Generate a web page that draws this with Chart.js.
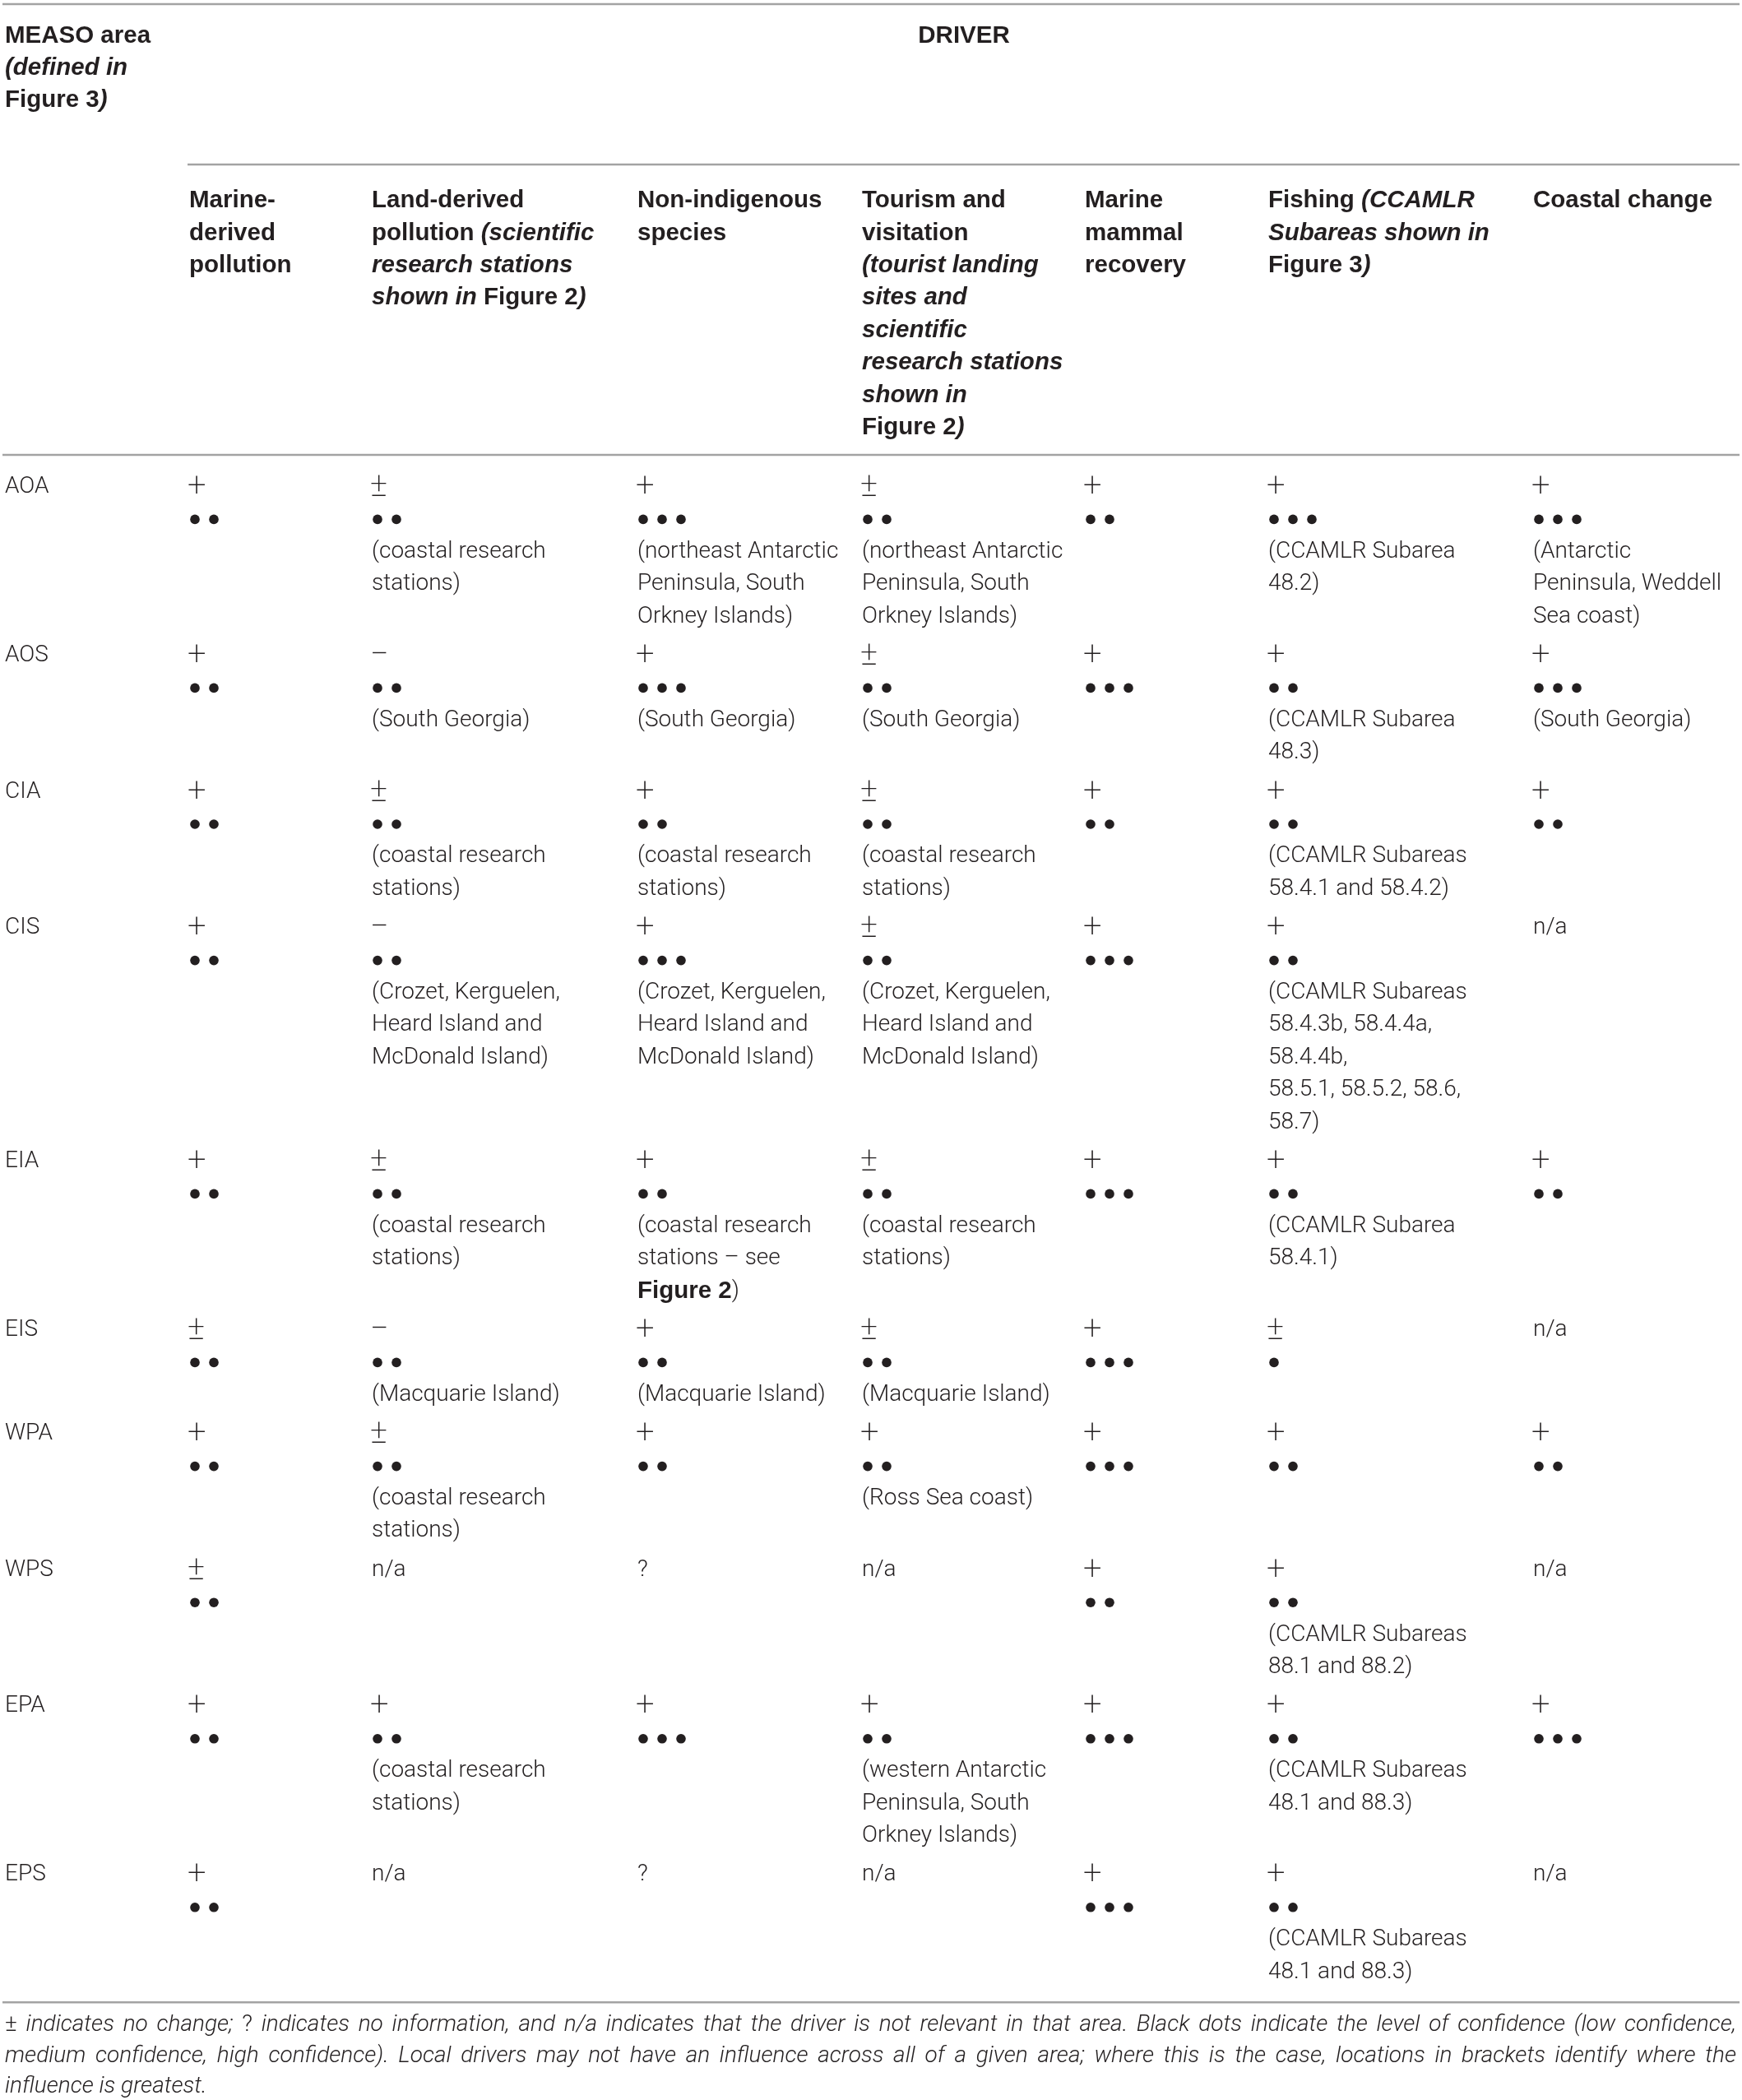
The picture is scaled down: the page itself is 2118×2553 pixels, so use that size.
<!DOCTYPE html>
<html>
<head>
<meta charset="utf-8">
<script src="https://cdn.jsdelivr.net/npm/chart.js@4.4.1/dist/chart.umd.min.js"></script>
<style>
  html, body { margin: 0; padding: 0; background: #fff; }
  canvas { display: block; }
</style>
</head>
<body>
<canvas id="chart" width="2118" height="2553"></canvas>
<script>
// ---- table content ----
const areas = ['AOA', 'AOS', 'CIA', 'CIS', 'EIA', 'EIS', 'WPA', 'WPS', 'EPA', 'EPS'];
const areaHead = ['MEASO area', '_(defined in_', 'Figure 3_)_'];
const groupHead = 'DRIVER';
// '_' toggles italic, '*' toggles bold
const driverHeads = [
  ['Marine-', 'derived', 'pollution'],
  ['Land-derived', 'pollution _(scientific_', '_research stations_', '_shown in_ Figure 2_)_'],
  ['Non-indigenous', 'species'],
  ['Tourism and', 'visitation', '_(tourist landing_', '_sites and_', '_scientific_', '_research stations_', '_shown in_', 'Figure 2_)_'],
  ['Marine', 'mammal', 'recovery'],
  ['Fishing _(CCAMLR_', '_Subareas shown in_', 'Figure 3_)_'],
  ['Coastal change']
];
const signs = [
  ['+', '±', '+', '±', '+', '+', '+'],
  ['+', '−', '+', '±', '+', '+', '+'],
  ['+', '±', '+', '±', '+', '+', '+'],
  ['+', '−', '+', '±', '+', '+', 'n/a'],
  ['+', '±', '+', '±', '+', '+', '+'],
  ['±', '−', '+', '±', '+', '±', 'n/a'],
  ['+', '±', '+', '+', '+', '+', '+'],
  ['±', 'n/a', '?', 'n/a', '+', '+', 'n/a'],
  ['+', '+', '+', '+', '+', '+', '+'],
  ['+', 'n/a', '?', 'n/a', '+', '+', 'n/a']
];
// number of black dots (confidence level)
const confidence = [
  [2, 2, 3, 2, 2, 3, 3],
  [2, 2, 3, 2, 3, 2, 3],
  [2, 2, 2, 2, 2, 2, 2],
  [2, 2, 3, 2, 3, 2, 0],
  [2, 2, 2, 2, 3, 2, 2],
  [2, 2, 2, 2, 3, 1, 0],
  [2, 2, 2, 2, 3, 2, 2],
  [2, 0, 0, 0, 2, 2, 0],
  [2, 2, 3, 2, 3, 2, 3],
  [2, 0, 0, 0, 3, 2, 0]
];
const coastal = ['(coastal research', 'stations)'];
const neAntarctic = ['(northeast Antarctic', 'Peninsula, South', 'Orkney Islands)'];
const crozet = ['(Crozet, Kerguelen,', 'Heard Island and', 'McDonald Island)'];
const notes = [
  [null, coastal, neAntarctic, neAntarctic, null, ['(CCAMLR Subarea', '48.2)'], ['(Antarctic', 'Peninsula, Weddell', 'Sea coast)']],
  [null, ['(South Georgia)'], ['(South Georgia)'], ['(South Georgia)'], null, ['(CCAMLR Subarea', '48.3)'], ['(South Georgia)']],
  [null, coastal, coastal, coastal, null, ['(CCAMLR Subareas', '58.4.1 and 58.4.2)'], null],
  [null, crozet, crozet, crozet, null, ['(CCAMLR Subareas', '58.4.3b, 58.4.4a,', '58.4.4b,', '58.5.1, 58.5.2, 58.6,', '58.7)'], null],
  [null, coastal, ['(coastal research', 'stations – see', '*Figure 2*)'], coastal, null, ['(CCAMLR Subarea', '58.4.1)'], null],
  [null, ['(Macquarie Island)'], ['(Macquarie Island)'], ['(Macquarie Island)'], null, null, null],
  [null, coastal, null, ['(Ross Sea coast)'], null, null, null],
  [null, null, null, null, null, ['(CCAMLR Subareas', '88.1 and 88.2)'], null],
  [null, coastal, null, ['(western Antarctic', 'Peninsula, South', 'Orkney Islands)'], null, ['(CCAMLR Subareas', '48.1 and 88.3)'], null],
  [null, null, null, null, null, ['(CCAMLR Subareas', '48.1 and 88.3)'], null]
];
const footnote = [
  '_±_ indicates no change; _?_ indicates no information, and n/a indicates that the driver is not relevant in that area. Black dots indicate the level of confidence (low confidence,',
  'medium confidence, high confidence). Local drivers may not have an influence across all of a given area; where this is the case, locations in brackets identify where the',
  'influence is greatest.'
];

// ---- layout ----
const W = 2118, H = 2553;
const colX = [6, 230, 452, 775, 1048, 1319, 1542, 1864];
const lineH = 39.4;
const rowGap = 8;
const firstRowY = 592;
const headY = 44, driverHeadY = 244;
const ink = '#231f20';
const ruleColor = '#a3a3a3';
const FS = 28;
const BODY_FAMILY = 'Roboto, "Liberation Sans", sans-serif';
const HEAD_FAMILY = '"Liberation Sans", Arial, sans-serif';
const HEAD_FS = 29.5;

function cellLines(r, c) {
  let n = 0;
  if (signs[r][c]) n++;
  if (confidence[r][c] > 0) n++;
  if (notes[r][c]) n += notes[r][c].length;
  return n;
}
const rowLines = areas.map((a, r) => Math.max(1, ...signs[r].map((s, c) => cellLines(r, c))));
const rowY = [];
areas.forEach((a, r) => {
  rowY.push(r === 0 ? firstRowY : rowY[r - 1] + rowLines[r - 1] * lineH + rowGap);
});
const lastR = areas.length - 1;
const bottomRuleY = rowY[lastR] + (rowLines[lastR] - 0.5) * lineH + 17;

// one scatter dataset per driver column; each point anchors a cell
const datasets = driverHeads.map((h, c) => ({
  label: h.join(' ').replace(/[_*]/g, ''),
  data: areas.map((a, r) => ({ x: colX[c + 1], y: rowY[r] })),
  pointRadius: 0,
  showLine: false
}));
datasets.unshift({
  label: 'MEASO area',
  data: areas.map((a, r) => ({ x: colX[0], y: rowY[r] })),
  pointRadius: 0,
  showLine: false
});

function fontFor(bold, italic) {
  if (bold) return (italic ? 'italic ' : '') + '700 ' + HEAD_FS + 'px ' + HEAD_FAMILY;
  return (italic ? 'italic ' : '') + '300 ' + FS + 'px ' + BODY_FAMILY;
}
function richWidth(ctx, str, bold, italic) {
  let w = 0, buf = '';
  const flush = () => { if (buf) { ctx.font = fontFor(bold, italic); w += ctx.measureText(buf).width; buf = ''; } };
  for (const ch of str) {
    if (ch === '_') { flush(); italic = !italic; }
    else if (ch === '*') { flush(); bold = !bold; }
    else buf += ch;
  }
  flush();
  return w;
}
function drawRich(ctx, str, x, y, bold, italic) {
  let cx = x, buf = '';
  const flush = () => {
    if (!buf) return;
    ctx.font = fontFor(bold, italic);
    ctx.fillText(buf, cx, y);
    cx += ctx.measureText(buf).width;
    buf = '';
  };
  for (const ch of str) {
    if (ch === '_') { flush(); italic = !italic; }
    else if (ch === '*') { flush(); bold = !bold; }
    else buf += ch;
  }
  flush();
  return cx;
}
function drawJustified(ctx, str, x, y, width, bold, italic) {
  const words = str.split(' ');
  const ws = words.map(w => richWidth(ctx, w, bold, italic));
  const total = ws.reduce((a, b) => a + b, 0);
  const gap = (width - total) / (words.length - 1);
  let cx = x;
  words.forEach((w, i) => { drawRich(ctx, w, cx, y, bold, italic); cx += ws[i] + gap; });
}

const tablePlugin = {
  id: 'tablePlugin',
  afterDraw(chart) {
    const ctx = chart.ctx;
    const xs = chart.scales.x, ys = chart.scales.y;
    const px = v => xs.getPixelForValue(v);
    const py = v => ys.getPixelForValue(v);
    ctx.save();
    ctx.fillStyle = ink;
    ctx.textBaseline = 'middle';
    ctx.textAlign = 'left';

    // rules
    ctx.strokeStyle = ruleColor;
    ctx.lineWidth = 2.5;
    const rule = (x0, x1, y) => { ctx.beginPath(); ctx.moveTo(px(x0), py(y)); ctx.lineTo(px(x1), py(y)); ctx.stroke(); };
    rule(3, 2115, 5);
    rule(228, 2115, 200);
    rule(3, 2115, 553);
    rule(3, 2115, bottomRuleY);

    // header
    areaHead.forEach((t, i) => drawRich(ctx, t, px(colX[0]), py(headY + i * 39), true, false));
    ctx.font = fontFor(true, false);
    ctx.textAlign = 'center';
    ctx.fillText(groupHead, px(1172), py(headY));
    ctx.textAlign = 'left';
    driverHeads.forEach((lines, c) => {
      lines.forEach((t, i) => drawRich(ctx, t, px(colX[c + 1]), py(driverHeadY + i * lineH), true, false));
    });

    // body
    chart.data.datasets.forEach((ds, di) => {
      const meta = chart.getDatasetMeta(di);
      meta.data.forEach((pt, r) => {
        const x = pt.x, y = pt.y;
        if (di === 0) { drawRich(ctx, areas[r], x, y, false, false); return; }
        const c = di - 1;
        let line = 0;
        const s = signs[r][c];
        if (s) {
          if (s === '+' || s === '±' || s === '−') {
            ctx.font = '200 40px ' + BODY_FAMILY;
            ctx.fillText(s, x - 2, y + 1);
          } else {
            ctx.font = fontFor(false, false);
            ctx.fillText(s, x, y);
          }
          line++;
        }
        const n = confidence[r][c];
        if (n > 0) {
          const dy = y + line * lineH;
          for (let k = 0; k < n; k++) {
            ctx.beginPath();
            ctx.arc(x + 7 + k * 23, dy, 5.8, 0, Math.PI * 2);
            ctx.fill();
          }
          line++;
        }
        const nt = notes[r][c];
        if (nt) nt.forEach(t => { drawRich(ctx, t, x, y + line * lineH, false, false); line++; });
      });
    });

    // footnote
    const fy = bottomRuleY + 28;
    drawJustified(ctx, footnote[0], px(6), py(fy), 2105, false, true);
    drawJustified(ctx, footnote[1], px(6), py(fy + 37.5), 2105, false, true);
    drawRich(ctx, footnote[2], px(6), py(fy + 75), false, true);
    ctx.restore();
  }
};

new Chart(document.getElementById('chart').getContext('2d'), {
  type: 'scatter',
  data: { datasets },
  options: {
    responsive: false,
    animation: false,
    layout: { padding: 0 },
    plugins: { legend: { display: false }, tooltip: { enabled: false } },
    scales: {
      x: { type: 'linear', min: 0, max: W, display: false },
      y: { type: 'linear', min: 0, max: H, reverse: true, display: false }
    }
  },
  plugins: [tablePlugin]
});
</script>
</body>
</html>
